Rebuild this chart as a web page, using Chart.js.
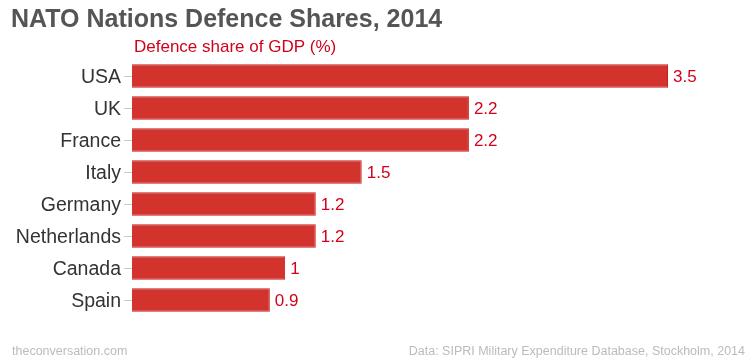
<!DOCTYPE html>
<html>
<head>
<meta charset="utf-8">
<script src="https://cdn.jsdelivr.net/npm/chart.js@4.4.0/dist/chart.umd.min.js"></script>
<style>
  html, body { margin: 0; padding: 0; background: #fff; }
  #wrap { width: 754px; height: 363px; }
</style>
</head>
<body>
<div id="wrap"><canvas id="myChart" width="754" height="363"></canvas></div>
<script>
let countries = ["USA", "UK", "France", "Italy", "Germany", "Netherlands", "Canada", "Spain"];
let defenceShare = [3.5, 2.2, 2.2, 1.5, 1.2, 1.2, 1, 0.9];
let barColor = '#d2332d';
let barBorder = '#c81e1e';

let titleText = "NATO Nations Defence Shares, 2014";
let subtitleText = "Defence share of GDP (%)";
let sourceLeft = "theconversation.com";
let sourceRight = "Data: SIPRI Military Expenditure Database, Stockholm, 2014";

// value labels next to bars + header/footer text
let textPlugin = {
    id: 'textPlugin',
    afterDatasetsDraw(chart) {
        let ctx = chart.ctx;
        let meta = chart.getDatasetMeta(0);
        ctx.save();
        ctx.fillStyle = '#d0021b';
        ctx.font = '17px "Liberation Sans", Arial, sans-serif';
        ctx.textAlign = 'left';
        ctx.textBaseline = 'middle';
        meta.data.forEach(function (bar, i) {
            ctx.fillText(String(defenceShare[i]), bar.x + 5, bar.y + 1);
        });
        ctx.restore();
    },
    afterDraw(chart) {
        let ctx = chart.ctx;
        ctx.save();
        ctx.textBaseline = 'middle';
        ctx.fillStyle = '#555';
        ctx.font = 'bold 25px "Liberation Sans", Arial, sans-serif';
        ctx.fillText(titleText, 11, 20);
        ctx.fillStyle = '#d0021b';
        ctx.font = '17px "Liberation Sans", Arial, sans-serif';
        ctx.fillText(subtitleText, chart.chartArea.left + 2, 47);
        ctx.fillStyle = '#bbb';
        ctx.font = '12.5px "Liberation Sans", Arial, sans-serif';
        ctx.fillText(sourceLeft, 12, 352);
        ctx.textAlign = 'right';
        ctx.fillText(sourceRight, 745, 352);
        ctx.restore();
    }
};

let chart1 = new Chart(document.getElementById("myChart").getContext('2d'), {
    type: 'bar',
    data: {
        labels: countries,
        datasets: [{
            data: defenceShare,
            backgroundColor: barColor,
            borderColor: barBorder,
            borderWidth: 1,
            barPercentage: 0.74,
            categoryPercentage: 1
        }]
    },
    options: {
        indexAxis: 'y',
        responsive: false,
        animation: false,
        layout: { padding: { top: 60, bottom: 47, left: 0, right: 86 } },
        plugins: {
            legend: { display: false },
            tooltip: { enabled: false }
        },
        scales: {
            x: { display: false, min: 0, max: 3.5 },
            y: {
                afterFit(scale) { scale.width = 132; },
                border: { display: false },
                grid: { drawOnChartArea: false, offset: false, tickLength: 8, color: '#ccc' },
                ticks: {
                    color: '#333',
                    padding: 3,
                    labelOffset: 2,
                    font: { family: '"Liberation Sans", Arial, sans-serif', size: 19.5 }
                }
            }
        }
    },
    plugins: [textPlugin]
});
</script>
</body>
</html>
